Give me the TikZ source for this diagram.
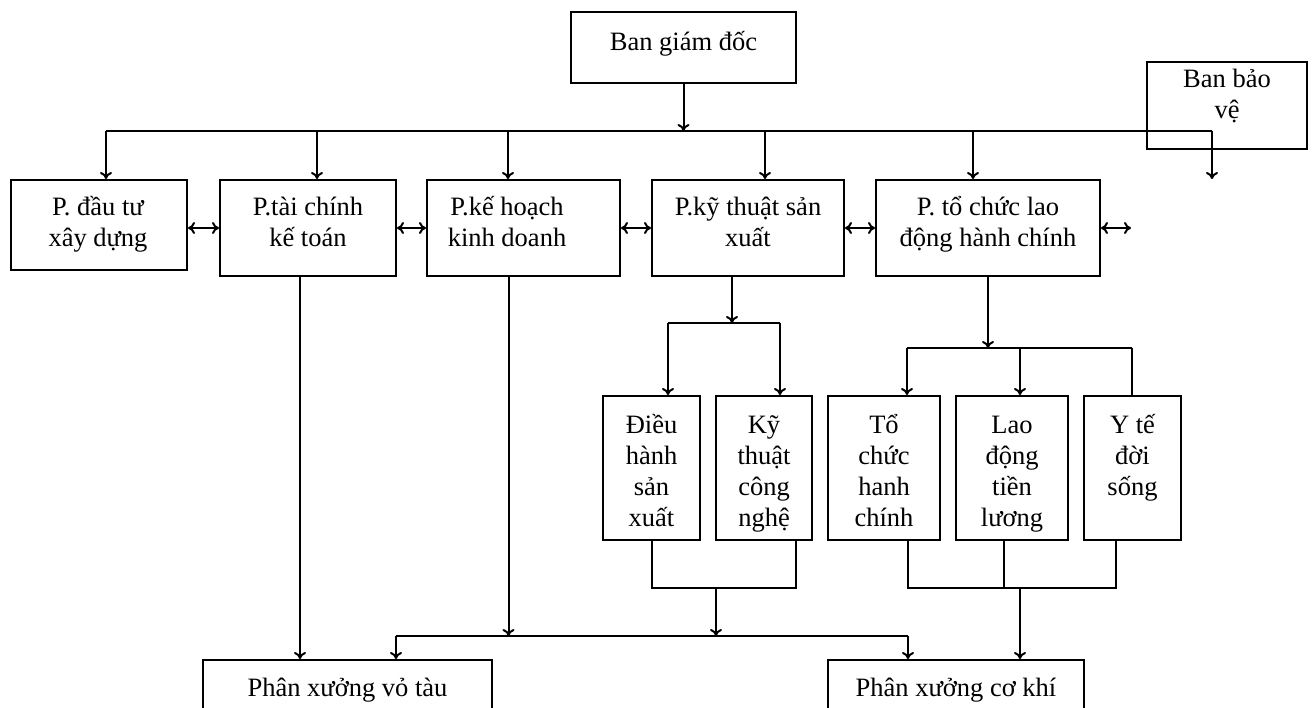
\documentclass[tikz,border=0pt]{standalone}
\usepackage{fontspec}
\setmainfont{Liberation Serif}
\usetikzlibrary{arrows.meta,fit}
\newcommand\mystrut{\rule{0pt}{26pt}}
\begin{document}
\begin{tikzpicture}[x=1pt,y=-1pt,line width=2pt,
  box/.style={draw,line width=2pt,inner sep=0pt},
  lbl/.style={anchor=north,align=center,inner sep=0pt,font=\fontsize{26.5}{31}\selectfont},
  arr/.style={-{To[length=7pt,width=12pt]}},
  darr/.style={{To[length=7pt,width=12pt]}-{To[length=7pt,width=12pt]}}]
\useasboundingbox (0,0) rectangle (1312,708);
% boxes
\node[box,fit={(571,12) (796,83)}] (bgd) {};
\node[box,fit={(1147,62) (1307,149)}] (bbv) {};
\node[box,fit={(11,180) (187,270)}] (p1) {};
\node[box,fit={(220,180) (396,276)}] (p2) {};
\node[box,fit={(427,180) (620,276)}] (p3) {};
\node[box,fit={(652,180) (844,276)}] (p4) {};
\node[box,fit={(876,180) (1100,276)}] (p5) {};
\node[box,fit={(603,396) (700,540)}] (s1) {};
\node[box,fit={(716,396) (812,540)}] (s2) {};
\node[box,fit={(828,396) (940,540)}] (s3) {};
\node[box,fit={(956,396) (1068,540)}] (s4) {};
\node[box,fit={(1084,396) (1181,540)}] (s5) {};
\node[box,fit={(203,660) (492,714)}] (b1) {};
\node[box,fit={(828,660) (1084,714)}] (b2) {};
% texts
\node[lbl] (bgd-t) at (683.5,24) {\mystrut Ban giám đốc};
\node[lbl] (bbv-t) at (1227,61) {\mystrut Ban bảo\\vệ};
\node[lbl] (p1-t) at (98,189) {\mystrut P. đầu tư\\xây dựng};
\node[lbl] (p2-t) at (308,189) {\mystrut P.tài chính\\kế toán};
\node[lbl] (p3-t) at (507,189) {\mystrut P.kế hoạch\\kinh doanh};
\node[lbl] (p4-t) at (748,189) {\mystrut P.kỹ thuật sản\\xuất};
\node[lbl] (p5-t) at (988,189) {\mystrut P. tổ chức lao\\động hành chính};
\node[lbl] (s1-t) at (651.5,406) {\mystrut Điều\\hành\\sản\\xuất};
\node[lbl] (s2-t) at (764,406) {\mystrut Kỹ\\thuật\\công\\nghệ};
\node[lbl] (s3-t) at (884,406) {\mystrut Tổ\\chức\\hanh\\chính};
\node[lbl] (s4-t) at (1012,406) {\mystrut Lao\\động\\tiền\\lương};
\node[lbl] (s5-t) at (1132.5,406) {\mystrut Y tế\\đời\\sống};
\node[lbl] (b1-t) at (347.5,669) {\mystrut Phân xưởng vỏ tàu};
\node[lbl] (b2-t) at (956,669) {\mystrut Phân xưởng cơ khí};
% top bus
\coordinate (d1) at (106,131);
\coordinate (d2) at (317,131);
\coordinate (d3) at (508,131);
\coordinate (d4) at (765,131);
\coordinate (d5) at (973,131);
\coordinate (dR) at (1212,131);
\coordinate (bbvEnd) at (1212,179);
\draw (d1) -- (dR);
\draw[arr] (bgd.south) -- (bgd.south |- d1);
\draw[arr] (d1) -- (d1 |- p1.north);
\draw[arr] (d2) -- (d2 |- p2.north);
\draw[arr] (d3) -- (d3 |- p3.north);
\draw[arr] (d4) -- (d4 |- p4.north);
\draw[arr] (d5) -- (d5 |- p5.north);
\draw[arr] (dR) -- (bbvEnd);
% horizontal double arrows
\coordinate (rfree) at (1131,228);
\draw[darr] (p1.east |- p2.west) -- (p2.west);
\draw[darr] (p2.east) -- (p3.west);
\draw[darr] (p3.east) -- (p4.west);
\draw[darr] (p4.east) -- (p5.west);
\draw[darr] (p5.east) -- (rfree);
% lower bus
\coordinate (bus2L) at (396,636);
\coordinate (bus2R) at (908,636);
\draw (bus2L) -- (bus2R);
\draw[arr] (bus2L) -- (bus2L |- b1.north);
\draw[arr] (bus2R) -- (bus2R |- b2.north);
\coordinate (v2) at ([xshift=-8pt]p2.south);
\draw[arr] (v2) -- (v2 |- b1.north);
\coordinate (v3) at ([xshift=-15pt]p3.south);
\draw[arr] (v3) -- (v3 |- bus2L);
% P.ky thuat branch
\coordinate (v4) at ([xshift=-16pt]p4.south);
\coordinate (bus3L) at (668,323);
\coordinate (bus3R) at (780,323);
\draw[arr] (v4) -- (v4 |- bus3L);
\draw (bus3L) -- (bus3R);
\draw[arr] (bus3L) -- (bus3L |- s1.north);
\draw[arr] (bus3R) -- (bus3R |- s2.north);
% P.to chuc branch
\coordinate (bus4L) at (907,348);
\coordinate (bus4M) at (1020,348);
\coordinate (bus4R) at (1132,348);
\draw[arr] (p5.south) -- (p5.south |- bus4L);
\draw (bus4L) -- (bus4R);
\draw[arr] (bus4L) -- (bus4L |- s3.north);
\draw[arr] (bus4M) -- (bus4M |- s4.north);
\draw (bus4R) -- (bus4R |- s5.north);
% bottom brackets
\coordinate (k2) at ([xshift=32pt]s2.south);
\coordinate (j1) at (716,588);
\draw (s1.south) |- (j1) -| (k2);
\draw[arr] (j1) -- (j1 |- bus2L);
\coordinate (k3) at ([xshift=24pt]s3.south);
\coordinate (k4) at ([xshift=-8pt]s4.south);
\coordinate (k5) at ([xshift=-16.5pt]s5.south);
\coordinate (j2) at (1020,588);
\draw (k3) |- (j2) -| (k5);
\draw (k4) -- (k4 |- j2);
\draw[arr] (j2) -- (j2 |- b2.north);
\end{tikzpicture}
\end{document}
